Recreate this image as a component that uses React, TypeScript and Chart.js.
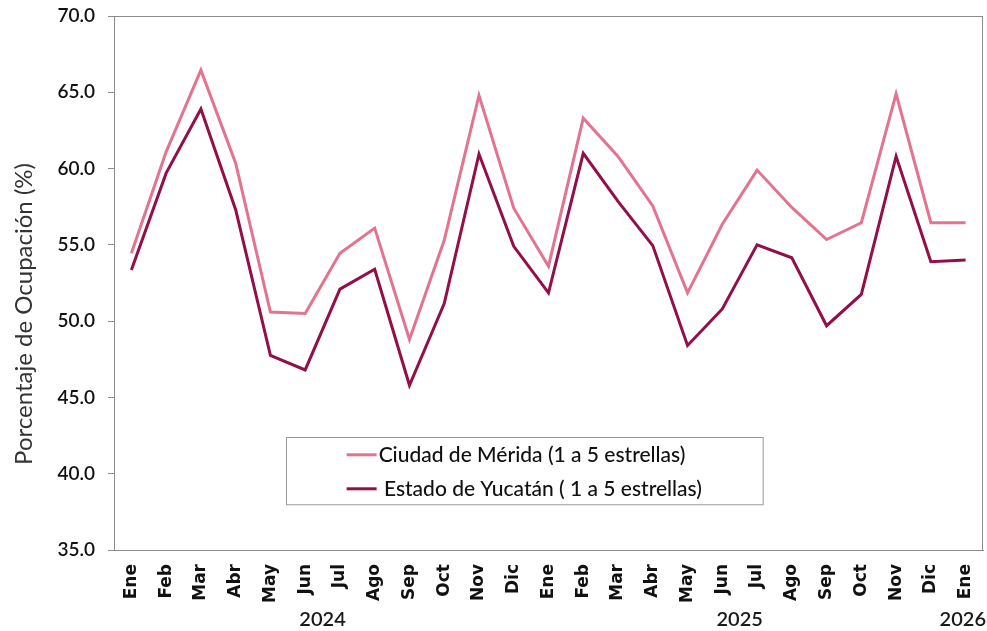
import React, { useEffect, useRef } from "react";
import { Chart, registerables } from "chart.js";

Chart.register(...registerables);

const months = ["Ene","Feb","Mar","Abr","May","Jun","Jul","Ago","Sep","Oct","Nov","Dic","Ene","Feb","Mar","Abr","May","Jun","Jul","Ago","Sep","Oct","Nov","Dic","Ene"];
const years = ["2024","2024","2024","2024","2024","2024","2024","2024","2024","2024","2024","2024","2025","2025","2025","2025","2025","2025","2025","2025","2025","2025","2025","2025","2026"];
const meridaValues = [54.45,61.1,66.45,60.35,50.6,50.5,54.45,56.1,48.8,55.3,64.8,57.4,53.6,63.3,60.8,57.55,51.85,56.35,59.9,57.45,55.35,56.45,64.9,56.45,56.45];
const yucatanValues = [53.35,59.7,63.9,57.3,47.75,46.8,52.1,53.4,45.8,51.15,60.95,54.9,51.85,61.0,57.85,54.95,48.4,50.8,55.0,54.15,49.7,51.75,60.8,53.9,54.0];
const seriesNames = ["Ciudad de Mérida (1 a 5 estrellas)", " Estado de Yucatán ( 1 a 5 estrellas)"];
const yTicks = [35, 40, 45, 50, 55, 60, 65, 70];
const axisTitle = "Porcentaje de Ocupación (%)";

const PINK = "#E2748F";
const DARK = "#920F49";
const AXIS = "#8C8C8C";
const FONT = "Lato, 'Open Sans', sans-serif";

const framePlugin = {
  id: "frame",
  afterDraw(chart: any) {
    const { ctx, chartArea } = chart;
    ctx.save();
    ctx.strokeStyle = AXIS;
    ctx.lineWidth = 1;
    ctx.strokeRect(chartArea.left + 0.5, chartArea.top + 0.5, chartArea.right - chartArea.left - 1, chartArea.bottom - chartArea.top);
    ctx.restore();
  },
};

const titlePlugin = {
  id: "yTitle",
  afterDraw(chart: any) {
    const { ctx, chartArea } = chart;
    ctx.save();
    ctx.translate(24, chartArea.top + (chartArea.bottom - chartArea.top) * 0.558);
    ctx.rotate(-Math.PI / 2);
    ctx.font = `24px ${FONT}`;
    ctx.fillStyle = "#333";
    ctx.textAlign = "center";
    ctx.textBaseline = "middle";
    ctx.fillText(axisTitle, 0, 0);
    ctx.restore();
  },
};

const yearPlugin = {
  id: "years",
  afterDraw(chart: any) {
    const { ctx } = chart;
    const xs = chart.scales.x;
    const groups: { year: string; first: number; last: number }[] = [];
    years.forEach((y, i) => {
      const g = groups[groups.length - 1];
      if (g && g.year === y) g.last = i;
      else groups.push({ year: y, first: i, last: i });
    });
    ctx.save();
    ctx.font = `600 20px ${FONT}`;
    ctx.fillStyle = "#1a1a1a";
    ctx.textAlign = "center";
    ctx.textBaseline = "middle";
    groups.forEach((g) => {
      let cx = (xs.getPixelForValue(g.first) + xs.getPixelForValue(g.last)) / 2;
      const half = ctx.measureText(g.year).width / 2;
      cx = Math.min(cx, chart.width - half - 1);
      ctx.fillText(g.year, cx, 620);
    });
    ctx.restore();
  },
};

const legendPlugin = {
  id: "boxLegend",
  afterDraw(chart: any) {
    const { ctx, chartArea } = chart;
    const w = chartArea.right - chartArea.left;
    const h = chartArea.bottom - chartArea.top;
    const left = chartArea.left + w * 0.1975;
    const right = chartArea.left + w * 0.746;
    const top = chartArea.top + h * 0.788;
    const bottom = chartArea.top + h * 0.914;
    ctx.save();
    ctx.fillStyle = "#fff";
    ctx.fillRect(left, top, right - left, bottom - top);
    ctx.strokeStyle = "#999";
    ctx.lineWidth = 1;
    ctx.strokeRect(Math.round(left) + 0.5, Math.round(top) + 0.5, right - left, bottom - top);
    ctx.font = `500 21px ${FONT}`;
    ctx.textBaseline = "middle";
    ctx.fillStyle = "#111";
    chart.data.datasets.forEach((ds: any, i: number) => {
      const y = top + 18 + i * 34;
      ctx.strokeStyle = ds.borderColor;
      ctx.lineWidth = 3;
      ctx.beginPath();
      ctx.moveTo(left + 61, y);
      ctx.lineTo(left + 91, y);
      ctx.stroke();
      ctx.fillText(ds.label, left + 93, y);
    });
    ctx.restore();
  },
};

export default function App() {
  const ref = useRef<HTMLCanvasElement>(null);
  useEffect(() => {
    if (!ref.current) return;
    const chart = new Chart(ref.current, {
      type: "line",
      data: {
        labels: months,
        datasets: [
          { label: seriesNames[0], data: meridaValues, borderColor: PINK, backgroundColor: PINK, borderWidth: 3, pointRadius: 0, tension: 0 },
          { label: seriesNames[1], data: yucatanValues, borderColor: DARK, backgroundColor: DARK, borderWidth: 3, pointRadius: 0, tension: 0 },
        ],
      },
      options: {
        animation: false,
        responsive: false,
        maintainAspectRatio: false,
        layout: { padding: { left: 0, top: 16, right: 4, bottom: 0 } },
        plugins: { legend: { display: false }, tooltip: { enabled: false } },
        scales: {
          x: {
            offset: true,
            grid: { display: false },
            border: { display: true, color: AXIS },
            ticks: {
              maxRotation: 90,
              minRotation: 90,
              autoSkip: false,
              padding: 6,
              color: "#111",
              font: { family: "'DejaVu Sans', sans-serif", size: 17, weight: "bold" },
            },
            afterFit(scale: any) {
              scale.height = 81;
              scale.paddingLeft = 0;
              scale.paddingRight = 0;
              scale.paddingTop = 0;
              scale.paddingBottom = 0;
            },
          },
          y: {
            min: 35,
            max: 70,
            afterBuildTicks(scale: any) { scale.ticks = yTicks.map((v) => ({ value: v })); },
            grid: { display: true, drawOnChartArea: false, drawTicks: true, tickLength: 6, color: AXIS },
            border: { display: true, color: AXIS },
            ticks: {
              padding: 13,
              color: "#111",
              font: { family: FONT, size: 19, weight: "600" },
              callback: (v: any) => Number(v).toFixed(1),
            },
            afterFit(scale: any) {
              scale.width = 114;
              scale.paddingTop = 0;
              scale.paddingBottom = 0;
              scale.paddingLeft = 0;
              scale.paddingRight = 0;
            },
          },
        },
      },
      plugins: [framePlugin, titlePlugin, yearPlugin, legendPlugin],
    });
    return () => chart.destroy();
  }, []);
  return (
    <div style={{ position: "fixed", left: 0, top: 0, width: 987, height: 631, background: "#fff" }}>
      <canvas ref={ref} width={987} height={631} style={{ width: 987, height: 631 }} />
    </div>
  );
}
